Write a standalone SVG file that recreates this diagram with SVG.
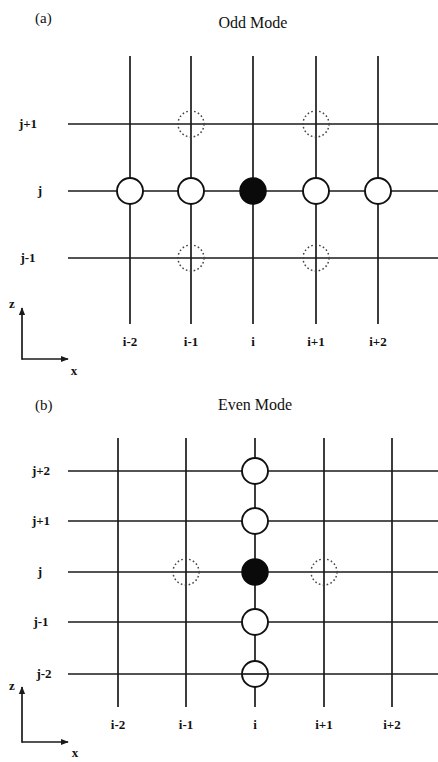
<svg xmlns="http://www.w3.org/2000/svg" width="438" height="762" viewBox="0 0 438 762">
<defs>
<style>
.g{stroke:#1a1a1a;stroke-width:1.7;fill:none}
.n{fill:#fff;stroke:#111;stroke-width:1.9}
.f{fill:#0a0a0a;stroke:#0a0a0a;stroke-width:1.5}
.d{fill:none;stroke:#444;stroke-width:1.5;stroke-dasharray:1.6 2.4}
.lab{font-family:"Liberation Serif",serif;font-weight:bold;font-size:13px;fill:#111;text-anchor:middle}
.ttl{font-family:"Liberation Serif",serif;font-size:16px;fill:#111;text-anchor:middle}
.pl{font-family:"Liberation Serif",serif;font-size:15px;fill:#111}
.ax{stroke:#1a1a1a;stroke-width:1.7;fill:none}
</style>
<marker id="ah" viewBox="0 0 10 10" refX="9" refY="5" markerWidth="8" markerHeight="8" orient="auto" markerUnits="userSpaceOnUse">
<path d="M0,1 L10,5 L0,9 z" fill="#1a1a1a"/>
</marker>
</defs>
<rect width="438" height="762" fill="#fff"/>

<!-- Panel (a) -->
<text class="pl" x="35" y="23">(a)</text>
<text class="ttl" x="253" y="28">Odd Mode</text>
<g id="grid-a">
<line class="g" x1="130" y1="56" x2="130" y2="324"/>
<line class="g" x1="191" y1="56" x2="191" y2="324"/>
<line class="g" x1="253" y1="56" x2="253" y2="324"/>
<line class="g" x1="316" y1="56" x2="316" y2="324"/>
<line class="g" x1="378" y1="56" x2="378" y2="324"/>
<line class="g" x1="68" y1="124" x2="438" y2="124"/>
<line class="g" x1="68" y1="191" x2="438" y2="191"/>
<line class="g" x1="68" y1="258" x2="438" y2="258"/>
</g>
<g id="a-labels">
<text class="lab" x="28" y="128">j+1</text>
<text class="lab" x="40" y="195">j</text>
<text class="lab" x="28" y="262">j-1</text>
<text class="lab" x="130" y="346">i-2</text>
<text class="lab" x="191" y="346">i-1</text>
<text class="lab" x="253" y="346">i</text>
<text class="lab" x="316" y="346">i+1</text>
<text class="lab" x="378" y="346">i+2</text>
</g>
<g id="a-n1"><circle class="n" cx="130" cy="191" r="13"/></g>
<g id="a-n2"><circle class="n" cx="191" cy="191" r="13"/></g>
<g id="a-n3"><circle class="f" cx="253" cy="191" r="13"/></g>
<g id="a-n4"><circle class="n" cx="316" cy="191" r="13"/></g>
<g id="a-n5"><circle class="n" cx="378" cy="191" r="13"/></g>
<g id="a-d1"><circle class="d" cx="191" cy="124" r="13"/></g>
<g id="a-d2"><circle class="d" cx="316" cy="124" r="13"/></g>
<g id="a-d3"><circle class="d" cx="191" cy="258" r="13"/></g>
<g id="a-d4"><circle class="d" cx="316" cy="258" r="13"/></g>
<g id="a-axes">
<line class="ax" x1="22" y1="359" x2="68" y2="359" marker-end="url(#ah)"/>
<line class="ax" x1="22" y1="359.8" x2="22" y2="308" marker-end="url(#ah)"/>
<text class="lab" x="12" y="308">z</text>
<text class="lab" x="74" y="375">x</text>
</g>

<!-- Panel (b) -->
<text class="pl" x="35" y="410">(b)</text>
<text class="ttl" x="255" y="410">Even Mode</text>
<g id="grid-b">
<line class="g" x1="118" y1="438" x2="118" y2="707"/>
<line class="g" x1="186" y1="438" x2="186" y2="707"/>
<line class="g" x1="255" y1="438" x2="255" y2="707"/>
<line class="g" x1="324" y1="438" x2="324" y2="707"/>
<line class="g" x1="392" y1="438" x2="392" y2="707"/>
<line class="g" x1="68" y1="471" x2="438" y2="471"/>
<line class="g" x1="68" y1="521" x2="438" y2="521"/>
<line class="g" x1="68" y1="572" x2="438" y2="572"/>
<line class="g" x1="68" y1="622" x2="438" y2="622"/>
<line class="g" x1="68" y1="674" x2="438" y2="674"/>
</g>
<g id="b-labels">
<text class="lab" x="41" y="475">j+2</text>
<text class="lab" x="41" y="525">j+1</text>
<text class="lab" x="40" y="576">j</text>
<text class="lab" x="41" y="626">j-1</text>
<text class="lab" x="44" y="678">j-2</text>
<text class="lab" x="118" y="729">i-2</text>
<text class="lab" x="186" y="729">i-1</text>
<text class="lab" x="255" y="729">i</text>
<text class="lab" x="324" y="729">i+1</text>
<text class="lab" x="392" y="729">i+2</text>
</g>
<g id="b-n1"><circle class="n" cx="255" cy="471" r="13"/></g>
<g id="b-n2"><circle class="n" cx="255" cy="521" r="13"/></g>
<g id="b-n3"><circle class="f" cx="255" cy="572" r="13"/></g>
<g id="b-n4"><circle class="n" cx="255" cy="622" r="13"/></g>
<g id="b-n5"><circle class="n" cx="255" cy="674" r="13"/><line class="g" x1="242" y1="674" x2="268" y2="674"/></g>
<g id="b-d1"><circle class="d" cx="186" cy="572" r="13"/></g>
<g id="b-d2"><circle class="d" cx="324" cy="572" r="13"/></g>
<g id="b-axes">
<line class="ax" x1="22" y1="742" x2="68" y2="742" marker-end="url(#ah)"/>
<line class="ax" x1="22" y1="742.8" x2="22" y2="687" marker-end="url(#ah)"/>
<text class="lab" x="12" y="690">z</text>
<text class="lab" x="75" y="757">x</text>
</g>
</svg>
